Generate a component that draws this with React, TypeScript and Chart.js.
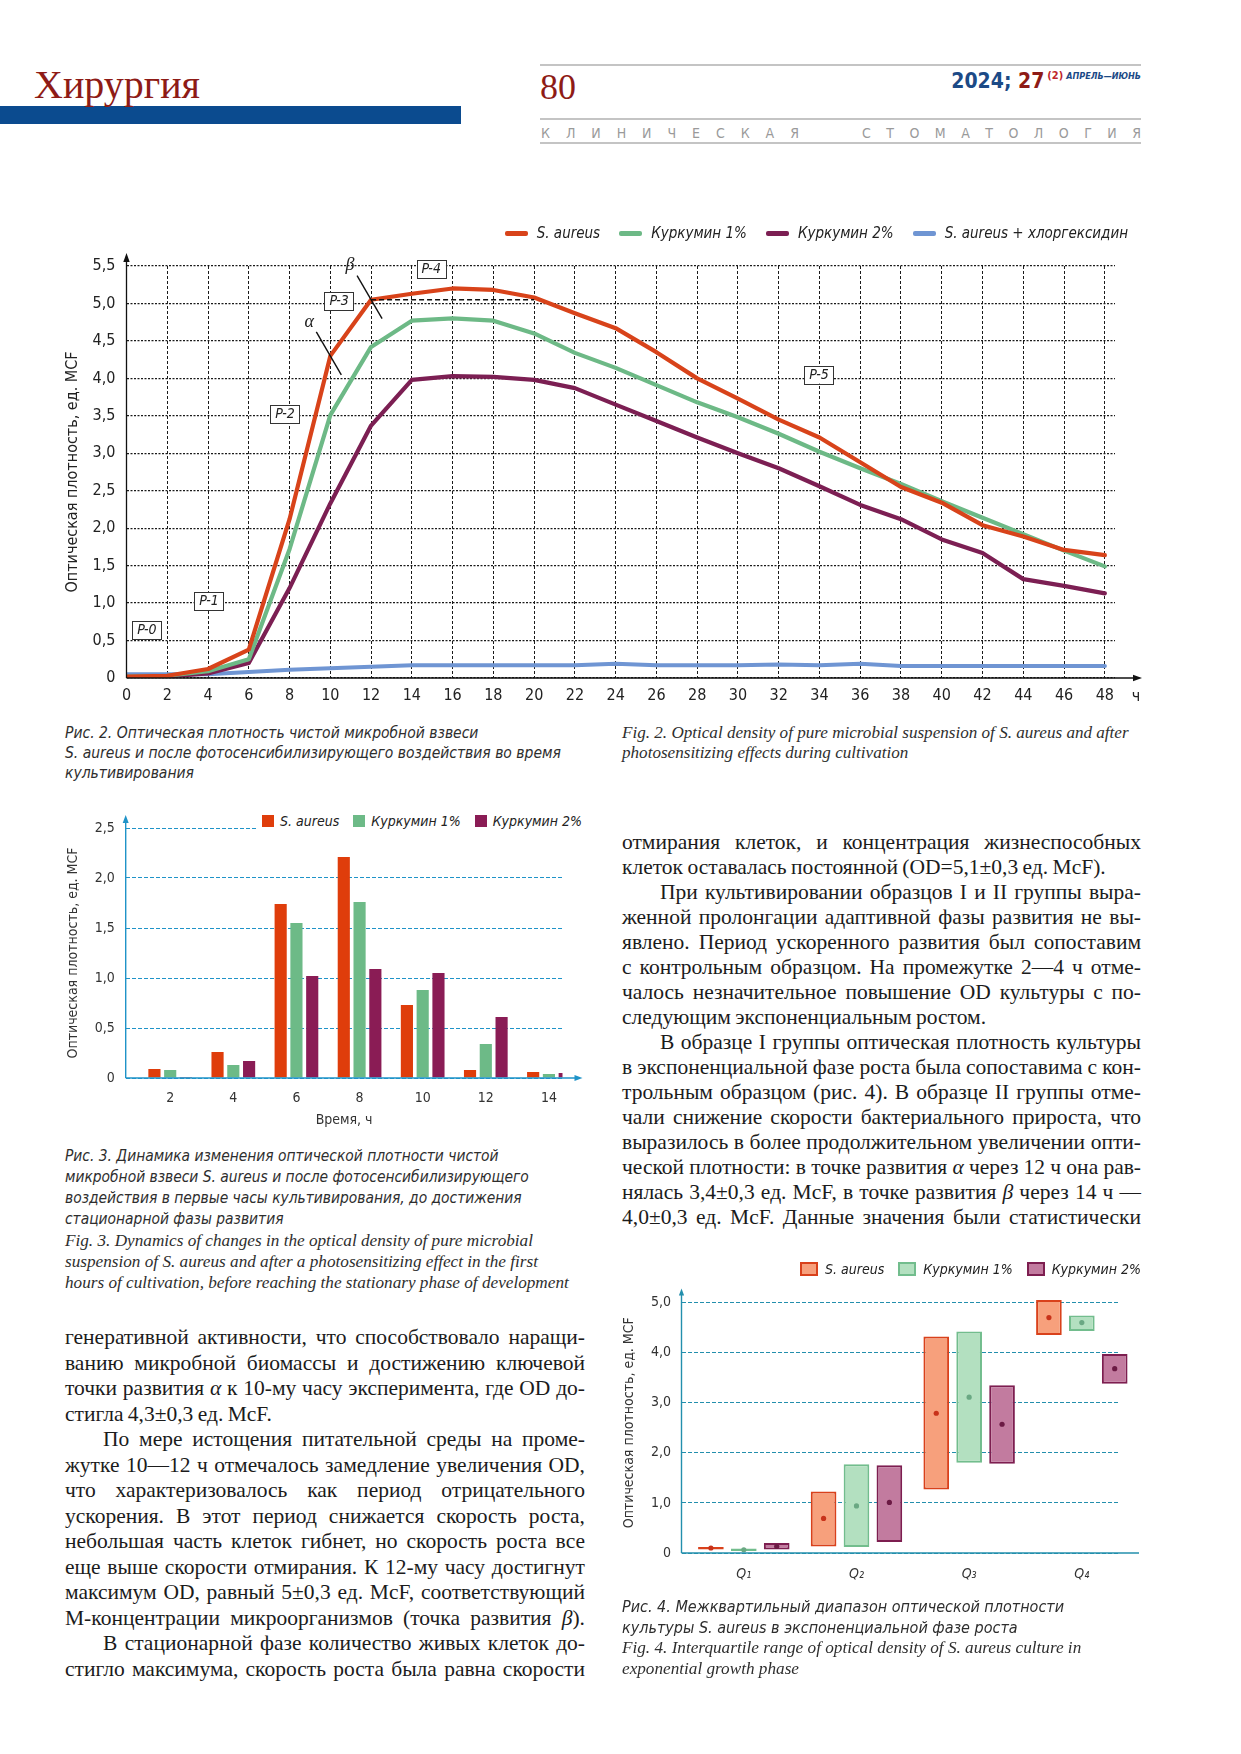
import React, { useEffect, useRef } from 'react';
import { Chart, registerables } from 'chart.js';

Chart.register(...registerables);

const NARROW = '"Liberation Sans Narrow", "DejaVu Sans Condensed", "Arial Narrow", sans-serif';
const SERIF = '"Liberation Serif", "Times New Roman", serif';

// ---------------- Fig. 2 : growth curves ----------------
const hours = [0, 2, 4, 6, 8, 10, 12, 14, 16, 18, 20, 22, 24, 26, 28, 30, 32, 34, 36, 38, 40, 42, 44, 46, 48];
const lineSeriesNames = ['S. aureus', 'Куркумин 1%', 'Куркумин 2%', 'S. aureus + хлоргексидин'];
const lineSAureus = [0.02, 0.03, 0.12, 0.38, 2.12, 4.3, 5.05, 5.13, 5.2, 5.18, 5.08, 4.87, 4.67, 4.35, 4.0, 3.73, 3.45, 3.21, 2.88, 2.55, 2.34, 2.04, 1.89, 1.71, 1.64];
const lineCurcumin1 = [0.02, 0.03, 0.09, 0.25, 1.72, 3.51, 4.42, 4.77, 4.8, 4.77, 4.6, 4.34, 4.14, 3.91, 3.68, 3.48, 3.26, 3.02, 2.8, 2.59, 2.36, 2.14, 1.92, 1.7, 1.49];
const lineCurcumin2 = [0.01, 0.02, 0.06, 0.2, 1.2, 2.33, 3.37, 3.98, 4.03, 4.02, 3.98, 3.87, 3.65, 3.43, 3.21, 3.0, 2.8, 2.56, 2.31, 2.12, 1.85, 1.67, 1.32, 1.23, 1.13];
const lineChlorhexidine = [0.05, 0.05, 0.05, 0.08, 0.11, 0.13, 0.15, 0.17, 0.17, 0.17, 0.17, 0.17, 0.19, 0.17, 0.17, 0.17, 0.18, 0.17, 0.19, 0.16, 0.16, 0.16, 0.16, 0.16, 0.16];
const lineColors = ['#d8431a', '#6db986', '#7c1f53', '#6f95d3'];
const lineYTicks = [0, 0.5, 1, 1.5, 2, 2.5, 3, 3.5, 4, 4.5, 5, 5.5];
const hourUnit = 'ч';
const phaseNames = ['P-0', 'P-1', 'P-2', 'P-3', 'P-4', 'P-5'];
const phaseAtHour = [1.0, 4.05, 7.78, 10.43, 14.95, 33.98];
const phaseAtOD = [0.64, 1.03, 3.52, 5.03, 5.46, 4.05];
const markerNames = ['α', 'β'];
const markerHours = [10, 12];
const plateauFrom = 12;
const plateauTo = 20;
const plateauOD = 5.05;

// ---------------- Fig. 3 : first hours ----------------
const barHours = [2, 4, 6, 8, 10, 12, 14];
const barSeriesNames = ['S. aureus', 'Куркумин 1%', 'Куркумин 2%'];
const barSAureus = [0.09, 0.26, 1.74, 2.21, 0.73, 0.08, 0.06];
const barCurcumin1 = [0.08, 0.13, 1.55, 1.76, 0.88, 0.34, 0.04];
const barCurcumin2 = [0.01, 0.17, 1.02, 1.09, 1.05, 0.61, 0.05];
const barColors = ['#df3d0b', '#6dba87', '#8a1c55'];
const barYTicks = [0, 0.5, 1, 1.5, 2, 2.5];

// ---------------- Fig. 4 : interquartile ranges ----------------
const quarterPos = [1, 2, 3, 4];
const quarterLabels = ['Q₁', 'Q₂', 'Q₃', 'Q₄'];
const iqrSAureusLow = [0.07, 0.13, 1.27, 4.35];
const iqrSAureusHigh = [0.12, 1.23, 4.32, 5.05];
const iqrSAureusMed = [0.1, 0.69, 2.79, 4.7];
const iqrCurcumin1Low = [0.04, 0.12, 1.8, 4.43];
const iqrCurcumin1High = [0.09, 1.77, 4.42, 4.74];
const iqrCurcumin1Med = [0.065, 0.94, 3.11, 4.6];
const iqrCurcumin2Low = [0.07, 0.22, 1.78, 3.38];
const iqrCurcumin2High = [0.2, 1.75, 3.35, 3.97];
const iqrCurcumin2Med = [0.13, 1.01, 2.57, 3.68];
const iqrFill = ['#f7a07c', '#b3e0c0', '#c27b9f'];
const iqrBorder = ['#d9411b', '#72bd8d', '#7d1e50'];
const iqrDot = ['#c8321a', '#6aa883', '#6b1a44'];
const iqrYTicks = [0, 1, 2, 3, 4, 5];

const yTitle = 'Оптическая плотность, ед. MCF';

const fmtComma = (v: number) => (v === 0 ? '0' : v.toFixed(1).replace('.', ','));

function seg(ctx: any, x1: number, y1: number, x2: number, y2: number) {
  ctx.beginPath();
  ctx.moveTo(x1, y1);
  ctx.lineTo(x2, y2);
  ctx.stroke();
}
function headUp(ctx: any, x: number, y: number, len = 9, half = 3.2) {
  ctx.beginPath();
  ctx.moveTo(x, y);
  ctx.lineTo(x - half, y + len);
  ctx.lineTo(x + half, y + len);
  ctx.closePath();
  ctx.fill();
}
function headRight(ctx: any, x: number, y: number, len = 9, half = 3.2) {
  ctx.beginPath();
  ctx.moveTo(x, y);
  ctx.lineTo(x - len, y - half);
  ctx.lineTo(x - len, y + half);
  ctx.closePath();
  ctx.fill();
}

const fig2Deco = {
  id: 'fig2Deco',
  afterDraw(chart: any) {
    const { ctx, chartArea: ca, scales } = chart;
    const x = scales.x;
    const y = scales.y;
    ctx.save();
    ctx.setLineDash([]);
    ctx.strokeStyle = '#111';
    ctx.fillStyle = '#111';
    ctx.lineWidth = 1.3;
    seg(ctx, ca.left, ca.bottom, ca.left, ca.top - 6);
    headUp(ctx, ca.left, ca.top - 13);
    seg(ctx, ca.left, ca.bottom, ca.right + 20, ca.bottom);
    headRight(ctx, ca.right + 27, ca.bottom);
    ctx.font = `16px ${NARROW}`;
    ctx.textAlign = 'center';
    ctx.textBaseline = 'middle';
    ctx.fillStyle = '#222';
    ctx.fillText(hourUnit, ca.right + 21, ca.bottom + 19);

    // plateau dashed line
    ctx.setLineDash([5, 3]);
    ctx.lineWidth = 1.6;
    ctx.strokeStyle = '#111';
    const py = y.getPixelForValue(plateauOD);
    seg(ctx, x.getPixelForValue(plateauFrom), py, x.getPixelForValue(plateauTo), py);
    ctx.setLineDash([]);

    // alpha / beta points
    markerHours.forEach((h, i) => {
      const px = x.getPixelForValue(h);
      const pyy = y.getPixelForValue(lineSAureus[hours.indexOf(h)]);
      ctx.strokeStyle = '#111';
      ctx.lineWidth = 1.4;
      seg(ctx, px - 14, pyy - 24, px + 11, pyy + 19);
      ctx.font = `italic 18px ${SERIF}`;
      ctx.fillStyle = '#222';
      ctx.fillText(markerNames[i], px - 21, pyy - 34);
    });

    // phase boxes
    ctx.font = `italic 14px ${NARROW}`;
    phaseNames.forEach((n, i) => {
      const cx = x.getPixelForValue(phaseAtHour[i]);
      const cy = y.getPixelForValue(phaseAtOD[i]);
      const w = Math.max(28, ctx.measureText(n).width + 10);
      const h = 18;
      ctx.fillStyle = '#fff';
      ctx.fillRect(cx - w / 2, cy - h / 2, w, h);
      ctx.strokeStyle = '#333';
      ctx.lineWidth = 1;
      ctx.strokeRect(Math.round(cx - w / 2) + 0.5, Math.round(cy - h / 2) + 0.5, Math.round(w), h);
      ctx.fillStyle = '#222';
      ctx.fillText(n, cx, cy + 0.5);
    });
    ctx.restore();
  },
};

const fig3Deco = {
  id: 'fig3Deco',
  afterDraw(chart: any) {
    const { ctx, chartArea: ca } = chart;
    ctx.save();
    ctx.strokeStyle = '#1f93c8';
    ctx.fillStyle = '#1f93c8';
    ctx.lineWidth = 1.4;
    seg(ctx, ca.left, ca.bottom, ca.left, ca.top - 6);
    headUp(ctx, ca.left, ca.top - 13, 8, 3);
    seg(ctx, ca.left, ca.bottom, ca.right + 13, ca.bottom);
    headRight(ctx, ca.right + 20, ca.bottom, 8, 3);
    ctx.restore();
  },
};

const fig4Deco = {
  id: 'fig4Deco',
  afterDatasetsDraw(chart: any) {
    const { ctx } = chart;
    const y = chart.scales.y;
    const meds = [iqrSAureusMed, iqrCurcumin1Med, iqrCurcumin2Med];
    ctx.save();
    meds.forEach((m, di) => {
      const meta = chart.getDatasetMeta(di);
      meta.data.forEach((el: any, j: number) => {
        ctx.fillStyle = iqrDot[di];
        ctx.beginPath();
        ctx.arc(el.x, y.getPixelForValue(m[j]), 2.6, 0, Math.PI * 2);
        ctx.fill();
      });
    });
    ctx.restore();
  },
  afterDraw(chart: any) {
    const { ctx, chartArea: ca } = chart;
    ctx.save();
    ctx.strokeStyle = '#238fad';
    ctx.fillStyle = '#238fad';
    ctx.lineWidth = 1.4;
    seg(ctx, ca.left, ca.bottom, ca.left, ca.top);
    headUp(ctx, ca.left, ca.top - 4, 7, 2.6);
    seg(ctx, ca.left, ca.bottom, ca.right + 20, ca.bottom);
    ctx.restore();
  },
};

function makeFig2(): any {
  const series = [lineSAureus, lineCurcumin1, lineCurcumin2, lineChlorhexidine];
  return {
    type: 'line',
    data: {
      datasets: series.map((arr, i) => ({
        label: lineSeriesNames[i],
        data: hours.map((h, j) => ({ x: h, y: arr[j] })),
        borderColor: lineColors[i],
        backgroundColor: lineColors[i],
        borderWidth: 4.2,
        pointRadius: 0,
        tension: 0,
        fill: false,
        borderJoinStyle: 'round',
        borderCapStyle: 'round',
      })),
    },
    options: {
      animation: false,
      responsive: false,
      maintainAspectRatio: false,
      layout: { padding: { left: 59, right: 126, top: 66, bottom: 0 } },
      plugins: { legend: { display: false }, tooltip: { enabled: false } },
      scales: {
        x: {
          type: 'linear',
          min: 0,
          max: 48.5,
          offset: false,
          afterBuildTicks: (ax: any) => {
            ax.ticks = hours.map((v) => ({ value: v }));
          },
          afterFit: (s: any) => {
            s.height = 40;
          },
          ticks: { padding: 8, font: { family: NARROW, size: 16 }, color: '#222', maxRotation: 0, callback: (v: any) => String(v) },
          grid: { color: '#1a1a1a', lineWidth: 1, drawTicks: false },
          border: { display: false, dash: [3, 2] },
        },
        y: {
          type: 'linear',
          min: 0,
          max: 5.5,
          afterBuildTicks: (ax: any) => {
            ax.ticks = lineYTicks.map((v) => ({ value: v }));
          },
          afterFit: (s: any) => {
            s.width = 67.5;
          },
          ticks: { padding: 11, font: { family: NARROW, size: 16 }, color: '#222', callback: (v: any) => fmtComma(v) },
          title: { display: true, text: yTitle, font: { family: NARROW, size: 16 }, color: '#222' },
          grid: { color: '#1a1a1a', lineWidth: 1.3, drawTicks: false },
          border: { display: false, dash: [2, 1.5] },
        },
      },
    },
    plugins: [fig2Deco],
  };
}

function makeFig3(): any {
  const series = [barSAureus, barCurcumin1, barCurcumin2];
  return {
    type: 'bar',
    data: {
      datasets: series.map((arr, i) => ({
        label: barSeriesNames[i],
        data: barHours.map((h, j) => ({ x: h, y: arr[j] })),
        backgroundColor: barColors[i],
        borderWidth: 0,
        categoryPercentage: 0.75,
        barPercentage: 0.77,
      })),
    },
    options: {
      animation: false,
      responsive: false,
      maintainAspectRatio: false,
      layout: { padding: { left: 61, right: 57.5, top: 38, bottom: 0 } },
      plugins: { legend: { display: false }, tooltip: { enabled: false } },
      scales: {
        x: {
          type: 'linear',
          min: 0.59,
          max: 14.43,
          offset: false,
          afterBuildTicks: (ax: any) => {
            ax.ticks = barHours.map((v) => ({ value: v }));
          },
          afterFit: (s: any) => {
            s.height = 55;
          },
          ticks: { padding: 4, font: { family: NARROW, size: 14 }, color: '#333', maxRotation: 0, callback: (v: any) => String(v) },
          title: { display: true, text: 'Время, ч', font: { family: NARROW, size: 14 }, color: '#333' },
          grid: { display: false, offset: false },
          border: { display: false },
        },
        y: {
          type: 'linear',
          min: 0,
          max: 2.5,
          afterBuildTicks: (ax: any) => {
            ax.ticks = barYTicks.map((v) => ({ value: v }));
          },
          afterFit: (s: any) => {
            s.width = 64.7;
          },
          ticks: { padding: 11, font: { family: NARROW, size: 14 }, color: '#333', callback: (v: any) => fmtComma(v) },
          title: { display: true, text: yTitle, font: { family: NARROW, size: 14 }, color: '#333' },
          grid: { color: '#1f93c8', lineWidth: 1, drawTicks: false },
          border: { display: false, dash: [4, 2] },
        },
      },
    },
    plugins: [fig3Deco],
  };
}

function makeFig4(): any {
  const lows = [iqrSAureusLow, iqrCurcumin1Low, iqrCurcumin2Low];
  const highs = [iqrSAureusHigh, iqrCurcumin1High, iqrCurcumin2High];
  return {
    type: 'bar',
    data: {
      datasets: lows.map((lo, i) => ({
        label: barSeriesNames[i],
        data: quarterPos.map((q, j) => ({ x: q, y: [lo[j], highs[i][j]] })),
        backgroundColor: iqrFill[i],
        borderColor: iqrBorder[i],
        borderWidth: 2,
        borderSkipped: false,
        categoryPercentage: 0.876,
        barPercentage: 0.78,
        clip: false,
      })),
    },
    options: {
      animation: false,
      responsive: false,
      maintainAspectRatio: false,
      layout: { padding: { left: 16.6, right: 122, top: 32.5, bottom: 0 } },
      plugins: { legend: { display: false }, tooltip: { enabled: false } },
      scales: {
        x: {
          type: 'linear',
          min: 0.447,
          max: 4.33,
          offset: false,
          afterBuildTicks: (ax: any) => {
            ax.ticks = quarterPos.map((v) => ({ value: v }));
          },
          afterFit: (s: any) => {
            s.height = 50;
          },
          ticks: {
            padding: 5,
            font: { family: NARROW, size: 14, style: 'italic' },
            color: '#333',
            maxRotation: 0,
            callback: (v: any) => quarterLabels[quarterPos.indexOf(v)],
          },
          grid: { display: false, offset: false },
          border: { display: false },
        },
        y: {
          type: 'linear',
          min: 0,
          max: 5.2,
          afterBuildTicks: (ax: any) => {
            ax.ticks = iqrYTicks.map((v) => ({ value: v }));
          },
          afterFit: (s: any) => {
            s.width = 64.9;
          },
          ticks: { padding: 10.5, font: { family: NARROW, size: 14 }, color: '#333', callback: (v: any) => fmtComma(v) },
          title: { display: true, text: yTitle, font: { family: NARROW, size: 14 }, color: '#333' },
          grid: { color: '#238fad', lineWidth: 1, drawTicks: false },
          border: { display: false, dash: [4, 2] },
        },
      },
    },
    plugins: [fig4Deco],
  };
}

function ChartBox({ left, top, width, height, make }: any) {
  const ref = useRef<HTMLCanvasElement>(null);
  useEffect(() => {
    const chart = new Chart(ref.current as HTMLCanvasElement, make());
    return () => chart.destroy();
  }, []);
  return (
    <canvas
      ref={ref}
      width={width}
      height={height}
      style={{ position: 'absolute', left, top, width, height }}
    />
  );
}

function greek(t: string) {
  return t.split(/([αβ])/).map((p, i) => (p === 'α' || p === 'β' ? <i key={i}>{p}</i> : <React.Fragment key={i}>{p}</React.Fragment>));
}

type BodyLine = { t: string; indent?: boolean; last?: boolean };

const leftColumn: BodyLine[] = [
  { t: 'генеративной активности, что способствовало наращи-' },
  { t: 'ванию микробной биомассы и достижению ключевой' },
  { t: 'точки развития α к 10-му часу эксперимента, где OD до-' },
  { t: 'стигла 4,3±0,3 ед. McF.', last: true },
  { t: 'По мере истощения питательной среды на проме-', indent: true },
  { t: 'жутке 10—12 ч отмечалось замедление увеличения OD,' },
  { t: 'что характеризовалось как период отрицательного' },
  { t: 'ускорения. В этот период снижается скорость роста,' },
  { t: 'небольшая часть клеток гибнет, но скорость роста все' },
  { t: 'еще выше скорости отмирания. К 12-му часу достигнут' },
  { t: 'максимум OD, равный 5±0,3 ед. McF, соответствующий' },
  { t: 'М-концентрации микроорганизмов (точка развития β).' },
  { t: 'В стационарной фазе количество живых клеток до-', indent: true },
  { t: 'стигло максимума, скорость роста была равна скорости' },
];

const rightColumn: BodyLine[] = [
  { t: 'отмирания клеток, и концентрация жизнеспособных' },
  { t: 'клеток оставалась постоянной (OD=5,1±0,3 ед. McF).', last: true },
  { t: 'При культивировании образцов I и II группы выра-', indent: true },
  { t: 'женной пролонгации адаптивной фазы развития не вы-' },
  { t: 'явлено. Период ускоренного развития был сопоставим' },
  { t: 'с контрольным образцом. На промежутке 2—4 ч отме-' },
  { t: 'чалось незначительное повышение OD культуры с по-' },
  { t: 'следующим экспоненциальным ростом.', last: true },
  { t: 'В образце I группы оптическая плотность культуры', indent: true },
  { t: 'в экспоненциальной фазе роста была сопоставима с кон-' },
  { t: 'трольным образцом (рис. 4). В образце II группы отме-' },
  { t: 'чали снижение скорости бактериального прироста, что' },
  { t: 'выразилось в более продолжительном увеличении опти-' },
  { t: 'ческой плотности: в точке развития α через 12 ч она рав-' },
  { t: 'нялась 3,4±0,3 ед. McF, в точке развития β через 14 ч —' },
  { t: '4,0±0,3 ед. McF. Данные значения были статистически' },
];

function Body({ left, top, width, lh, lines }: { left: number; top: number; width: number; lh: number; lines: BodyLine[] }) {
  return (
    <div style={{ position: 'absolute', left, top, width, font: `21.5px ${SERIF}`, lineHeight: `${lh}px`, color: '#1b1b1b' }}>
      {lines.map((l, i) => (
        <div
          key={i}
          style={{
            textAlign: 'justify',
            textAlignLast: l.last ? 'left' : 'justify',
            textIndent: l.indent ? 38 : 0,
            height: lh,
            whiteSpace: 'nowrap',
            wordSpacing: -1,
          } as any}
        >
          {greek(l.t)}
        </div>
      ))}
    </div>
  );
}

function Caption({ left, top, lh, lines, sans, size }: { left: number; top: number; lh: number; lines: string[]; sans: boolean; size: number }) {
  return (
    <div
      style={{
        position: 'absolute',
        left,
        top,
        whiteSpace: 'nowrap',
        fontStyle: 'italic',
        fontFamily: sans ? NARROW : SERIF,
        fontSize: size,
        lineHeight: `${lh}px`,
        color: '#2e2e2e',
      }}
    >
      {lines.map((l, i) => (
        <div key={i}>{l}</div>
      ))}
    </div>
  );
}

function Spaced({ left, width, top, text }: { left: number; width: number; top: number; text: string }) {
  return (
    <div
      style={{
        position: 'absolute',
        left,
        width,
        top,
        display: 'flex',
        justifyContent: 'space-between',
        fontFamily: NARROW,
        fontSize: 14,
        color: '#9a9a9a',
        lineHeight: '16px',
      }}
    >
      {text.split('').map((c, i) => (
        <span key={i}>{c}</span>
      ))}
    </div>
  );
}

export default function App() {
  return (
    <div style={{ position: 'absolute', left: 0, top: 0, width: 1241, height: 1754, overflow: 'hidden', background: '#fff' }}>
      {/* header */}
      <div style={{ position: 'absolute', left: 0, top: 106, width: 461, height: 18, background: '#0b4b8f' }} />
      <div style={{ position: 'absolute', left: 34, top: 65, font: `40px ${SERIF}`, lineHeight: '40px', color: '#8e1b16', whiteSpace: 'nowrap' }}>
        Хирургия
      </div>
      <div style={{ position: 'absolute', left: 540, top: 69, font: `36px ${SERIF}`, lineHeight: '36px', color: '#8e1b16' }}>80</div>
      <div style={{ position: 'absolute', left: 540, top: 64, width: 601, height: 2, background: '#c4c4c4' }} />
      <div style={{ position: 'absolute', left: 540, top: 118, width: 601, height: 2, background: '#c4c4c4' }} />
      <div style={{ position: 'absolute', left: 540, top: 142, width: 601, height: 2, background: '#c4c4c4' }} />
      <div style={{ position: 'absolute', left: 800, width: 341, top: 70, textAlign: 'right', whiteSpace: 'nowrap', fontFamily: NARROW, lineHeight: '22px' }}>
        <span style={{ fontWeight: 700, fontSize: 21, color: '#1c4a86' }}>2024; </span>
        <span style={{ fontWeight: 700, fontSize: 21, color: '#8e1b16' }}>27</span>
        <span style={{ fontSize: 11, color: '#c0262c', verticalAlign: 'top', fontWeight: 700, marginLeft: 3, lineHeight: '12px' }}>(2)</span>
        <span style={{ fontSize: 9, fontStyle: 'italic', color: '#1c4a86', verticalAlign: 'top', fontWeight: 700, marginLeft: 3, lineHeight: '12px' }}>АПРЕЛЬ—ИЮНЬ</span>
      </div>
      <Spaced left={541} width={258} top={125} text="КЛИНИЧЕСКАЯ" />
      <Spaced left={862} width={279} top={125} text="СТОМАТОЛОГИЯ" />

      {/* Fig. 2 */}
      <ChartBox left={0} top={200} width={1241} height={518} make={makeFig2} />
      <div
        style={{
          position: 'absolute',
          left: 400,
          width: 728,
          top: 222,
          display: 'flex',
          justifyContent: 'flex-end',
          gap: 19,
          alignItems: 'center',
          fontFamily: NARROW,
          fontStyle: 'italic',
          fontSize: 15,
          lineHeight: '22px',
          color: '#222',
          whiteSpace: 'nowrap',
        }}
      >
        {lineSeriesNames.map((n, i) => (
          <span key={i} style={{ display: 'flex', alignItems: 'center' }}>
            <span style={{ display: 'inline-block', width: 23, height: 5, background: lineColors[i], marginRight: 9, borderRadius: 2 }} />
            {n}
          </span>
        ))}
      </div>
      <Caption
        left={65}
        top={723}
        lh={20}
        sans
        size={15.5}
        lines={[
          'Рис. 2. Оптическая плотность чистой микробной взвеси',
          'S. aureus и после фотосенсибилизирующего воздействия во время',
          'культивирования',
        ]}
      />
      <Caption
        left={622}
        top={723}
        lh={20}
        sans={false}
        size={17.1}
        lines={['Fig. 2. Optical density of pure microbial suspension of S. aureus and after', 'photosensitizing effects during cultivation']}
      />

      {/* Fig. 3 */}
      <ChartBox left={0} top={790} width={620} height={343} make={makeFig3} />
      <div
        style={{
          position: 'absolute',
          left: 257,
          width: 325,
          top: 811,
          height: 20,
          background: '#fff',
          display: 'flex',
          justifyContent: 'flex-end',
          gap: 14,
          alignItems: 'center',
          fontFamily: NARROW,
          fontStyle: 'italic',
          fontSize: 14,
          lineHeight: '20px',
          color: '#222',
          whiteSpace: 'nowrap',
        }}
      >
        {barSeriesNames.map((n, i) => (
          <span key={i} style={{ display: 'flex', alignItems: 'center' }}>
            <span style={{ display: 'inline-block', width: 12, height: 12, background: barColors[i], marginRight: 6 }} />
            {n}
          </span>
        ))}
      </div>
      <Caption
        left={65}
        top={1146}
        lh={21}
        sans
        size={15.4}
        lines={[
          'Рис. 3. Динамика изменения оптической плотности чистой',
          'микробной взвеси S. aureus и после фотосенсибилизирующего',
          'воздействия в первые часы культивирования, до достижения',
          'стационарной фазы развития',
        ]}
      />
      <Caption
        left={65}
        top={1230}
        lh={21}
        sans={false}
        size={17.2}
        lines={[
          'Fig. 3. Dynamics of changes in the optical density of pure microbial',
          'suspension of S. aureus and after a photosensitizing effect in the first',
          'hours of cultivation, before reaching the stationary phase of development',
        ]}
      />

      {/* body text */}
      <Body left={65} top={1325} width={520} lh={25.5} lines={leftColumn} />
      <Body left={622} top={830} width={519} lh={25} lines={rightColumn} />

      {/* Fig. 4 */}
      <ChartBox left={600} top={1260} width={641} height={343} make={makeFig4} />
      <div
        style={{
          position: 'absolute',
          left: 780,
          width: 361,
          top: 1259,
          display: 'flex',
          justifyContent: 'flex-end',
          gap: 14,
          alignItems: 'center',
          fontFamily: NARROW,
          fontStyle: 'italic',
          fontSize: 14,
          lineHeight: '20px',
          color: '#222',
          whiteSpace: 'nowrap',
        }}
      >
        {barSeriesNames.map((n, i) => (
          <span key={i} style={{ display: 'flex', alignItems: 'center' }}>
            <span
              style={{
                display: 'inline-block',
                width: 14,
                height: 10,
                background: iqrFill[i],
                border: `2px solid ${iqrBorder[i]}`,
                marginRight: 7,
              }}
            />
            {n}
          </span>
        ))}
      </div>
      <Caption
        left={622}
        top={1597}
        lh={20.5}
        sans
        size={16}
        lines={['Рис. 4. Межквартильный диапазон оптической плотности', 'культуры S. aureus в экспоненциальной фазе роста']}
      />
      <Caption
        left={622}
        top={1638}
        lh={20.5}
        sans={false}
        size={17.2}
        lines={['Fig. 4. Interquartile range of optical density of S. aureus culture in', 'exponential growth phase']}
      />
    </div>
  );
}
